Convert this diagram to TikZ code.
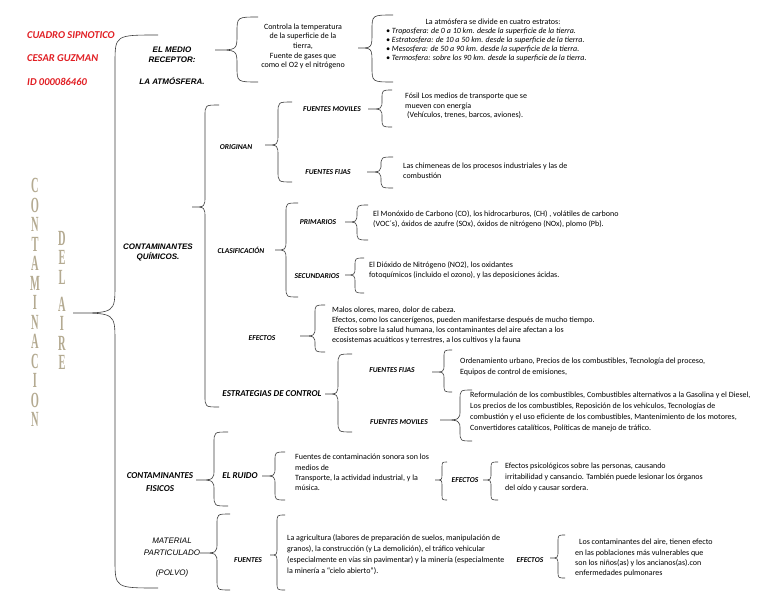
\documentclass[tikz,border=0pt]{standalone}
\usepackage{fontspec}
\usepackage{graphicx}
\setmainfont{Carlito}
\newfontfamily\arialf{Liberation Sans}
\newfontfamily\serifa{Liberation Serif}
\definecolor{rojo}{RGB}{225,30,35}
\definecolor{arena}{RGB}{180,170,145}
\definecolor{trazo}{RGB}{60,60,60}
\tikzset{
  txt/.style={font=\fontsize{8}{10}\selectfont,align=left,inner sep=0pt,anchor=north west},
  etq/.style={font=\fontsize{7.5}{9}\selectfont\bfseries\itshape,inner sep=0pt},
  etqg/.style={font=\fontsize{9}{13}\selectfont\bfseries\itshape,inner sep=0pt,align=center},
  tit/.style={font=\arialf\fontsize{8}{10}\selectfont\bfseries\itshape,align=center,inner sep=0pt},
  rojotxt/.style={font=\fontsize{10.5}{12}\selectfont\bfseries\itshape,text=rojo,inner sep=0pt,anchor=west},
  letra/.style={text=arena,inner sep=0pt,align=center,anchor=north,
    font=\serifa\fontsize{16}{19.5}\selectfont\bfseries},
  llave/.style={draw=trazo,line width=0.6pt}
}
\newcommand{\alta}[1]{\scalebox{0.65}[1.35]{#1}}
% llave: brazo x, medio x, arriba y, abajo y, punta x, punta y
\newcommand{\corchete}[6]{%
  \pgfmathsetmacro{\radio}{0.6*(#1-#2)+3}
  \draw[llave] (#1,#3) .. controls (#2,#3) .. (#2,#3+\radio) -- (#2,#6-\radio)
    .. controls (#2,#6) .. (#5,#6) .. controls (#2,#6) .. (#2,#6+\radio)
    -- (#2,#4-\radio) .. controls (#2,#4) .. (#1,#4);}
\begin{document}
\begin{tikzpicture}[x=1pt,y=-1pt]
\fill[white] (0,0) rectangle (768,594);
\useasboundingbox (0,0) rectangle (768,594);
% encabezado
\node[rojotxt] (cuadro) at (27,35) {CUADRO SIPNOTICO};
\node[rojotxt] (autor) at (27,58) {CESAR GUZMAN};
\node[rojotxt] (ident) at (27,82) {ID 000086460};
% letras verticales
\node[letra] (contam) at (35,178)
  {\alta{C}\\\alta{O}\\\alta{N}\\\alta{T}\\\alta{A}\\\alta{M}\\\alta{I}\\\alta{N}\\\alta{A}\\\alta{C}\\\alta{I}\\\alta{O}\\\alta{N}};
\node[letra] (del) at (62,231) {\alta{D}\\\alta{E}\\\alta{L}};
\node[letra] (aire) at (62,297) {\alta{A}\\\alta{I}\\\alta{R}\\\alta{E}};
\corchete{158}{115}{35}{588}{73}{313}
% medio receptor
\node[tit] (medio) at (172,55) {EL MEDIO\\RECEPTOR:};
\node[tit] (atmos) at (172,81) {LA ATM\'OSFERA.};
\corchete{258}{237}{17}{82}{215}{50}
\node[txt,anchor=north,align=center,font=\fontsize{8}{9.6}\selectfont] (controla) at (303,23.5)
  {Controla la temperatura\\de la superficie de la\\tierra,\\Fuente de gases que\\como el O2 y el nitr\'ogeno};
\corchete{393}{372}{15}{82}{358}{48}
\node[txt,anchor=center] (divide) at (493,22) {La atm\'osfera se divide en cuatro estratos:};
\node[txt,font=\fontsize{8}{9.2}\selectfont\itshape] (estratos) at (386,27.5)
  {\textbullet\ Troposfera: de 0 a 10 km. desde la superficie de la tierra.\\
   \textbullet\ Estratosfera: de 10 a 50 km. desde la superficie de la tierra.\\
   \textbullet\ Mesosfera: de 50 a 90 km. desde la superficie de la tierra.\\
   \textbullet\ Termosfera: sobre los 90 km. desde la superficie de la tierra.};
% contaminantes quimicos
\node[tit] (quimicos) at (158,252) {CONTAMINANTES\\QU\'IMICOS.};
\corchete{219}{205}{105}{407}{192}{207}
\node[etq] (originan) at (236,147) {ORIGINAN};
\corchete{292}{278}{102}{182}{265}{145}
\node[etq] (movil) at (332,109) {FUENTES MOVILES};
\corchete{392}{382}{90}{127}{368}{109}
\node[txt,font=\fontsize{8}{9.5}\selectfont] (fosil) at (405,93)
  {F\'osil Los medios de transporte que se\\mueven con energ\'ia\\\hspace{2pt}(Veh\'iculos, trenes, barcos, aviones).};
\node[etq] (fija) at (328,172) {FUENTES FIJAS};
\corchete{393}{381}{157}{188}{367}{172}
\node[txt] (chimenea) at (403,163)
  {Las chimeneas de los procesos industriales y las de\\combusti\'on};
\node[etq] (clasif) at (241,250) {CLASIFICACI\'ON};
\corchete{298}{286}{203}{297}{275}{250}
\node[etq] (primario) at (318,222) {PRIMARIOS};
\corchete{368}{357}{205}{240}{345}{222}
\node[txt] (monoxido) at (373,210.5)
  {El Mon\'oxido de Carbono (CO), los hidrocarburos, (CH) , vol\'atiles de carbono\\(VOC´s), \'oxidos de azufre (SOx), \'oxidos de nitr\'ogeno (NOx), plomo (Pb).};
\node[etq] (secund) at (317,276) {SECUNDARIOS};
\corchete{364}{355}{258}{293}{345}{275}
\node[txt] (dioxido) at (369,261.5)
  {El Di\'oxido de Nitr\'ogeno (NO2), los oxidantes\\fotoqu\'imicos (incluido el ozono), y las deposiciones \'acidas.};
\node[etq] (efecq) at (262,338) {EFECTOS};
\corchete{325}{315}{305}{352}{300}{336}
\node[txt] (malos) at (332,306.5)
  {Malos olores, mareo, dolor de cabeza.\\Efectos, como los cancer\'igenos, pueden manifestarse despu\'es de mucho tiempo.\\
   \hspace{2pt}Efectos sobre la salud humana, los contaminantes del aire afectan a los\\ecosistemas acu\'aticos y terrestres, a los cultivos y la fauna};
\node[etqg] (estrat) at (272,394) {ESTRATEGIAS DE CONTROL};
\corchete{352}{338}{354}{432}{325}{394}
\node[etq] (fija2) at (392,370) {FUENTES FIJAS};
\corchete{452}{444}{350}{392}{432}{372}
\node[txt,font=\fontsize{8}{11}\selectfont] (orden) at (460,358)
  {Ordenamiento urbano, Precios de los combustibles, Tecnolog\'ia del proceso,\\Equipos de control de emisiones,};
\node[etq] (movil2) at (399,422) {FUENTES MOVILES};
\corchete{472}{460}{390}{441}{440}{420}
\node[txt,font=\fontsize{8}{11}\selectfont] (reform) at (470,392)
  {Reformulaci\'on de los combustibles, Combustibles alternativos a la Gasolina y el Diesel,\\
   Los precios de los combustibles, Reposici\'on de los veh\'iculos, Tecnolog\'ias de\\
   combusti\'on y el uso eficiente de los combustibles, Mantenimiento de los motores,\\
   Convertidores catal\'iticos, Pol\'iticas de manejo de tr\'afico.};
% contaminantes fisicos
\node[etqg] (fisicos) at (160,482) {CONTAMINANTES\\FISICOS};
\corchete{228}{214}{432}{506}{196}{480}
\node[etqg] (ruido) at (240,476) {EL RUIDO};
\corchete{285}{275}{452}{500}{262}{476}
\node[txt,font=\fontsize{8}{10.3}\selectfont] (sonora) at (295,454)
  {Fuentes de contaminaci\'on sonora son los\\medios de\\Transporte, la actividad industrial, y la\\m\'usica.};
\corchete{447}{442}{462}{500}{435}{480}
\node[etq] (efecr) at (465,480) {EFECTOS};
\corchete{498}{491}{462}{500}{483}{480}
\node[txt,font=\fontsize{8}{11}\selectfont] (psico) at (505,463)
  {Efectos psicol\'ogicos sobre las personas, causando\\irritabilidad y cansancio. Tambi\'en puede lesionar los \'organos\\del o\'ido y causar sordera.};
% material particulado
\node[tit,font=\arialf\fontsize{8}{12}\selectfont\itshape] (material) at (172,547) {MATERIAL\\PARTICULADO};
\node[tit,font=\arialf\fontsize{8}{10}\selectfont\itshape] (polvo) at (172,573) {(POLVO)};
\corchete{230}{217}{514}{590}{200}{553}
\node[etq] (fuentes) at (248,560) {FUENTES};
\corchete{285}{277}{515}{590}{270}{555}
\node[txt,font=\fontsize{8}{11}\selectfont] (agri) at (287,534)
  {La agricultura (labores de preparaci\'on de suelos, manipulaci\'on de\\
   granos), la construcci\'on (y La demolici\'on), el tr\'afico vehicular\\
   (especialmente en v\'ias sin pavimentar) y la miner\'ia (especialmente\\
   la miner\'ia a ``cielo abierto'').};
\node[etq] (efecm) at (530,560) {EFECTOS};
\corchete{565}{558}{535}{578}{550}{558}
\node[txt,font=\fontsize{8}{10.3}\selectfont] (poblac) at (575,539)
  {\hspace{4pt}Los contaminantes del aire, tienen efecto\\en las poblaciones m\'as vulnerables que\\son los ni\~nos(as) y los ancianos(as).con\\enfermedades pulmonares};
\end{tikzpicture}
\end{document}
